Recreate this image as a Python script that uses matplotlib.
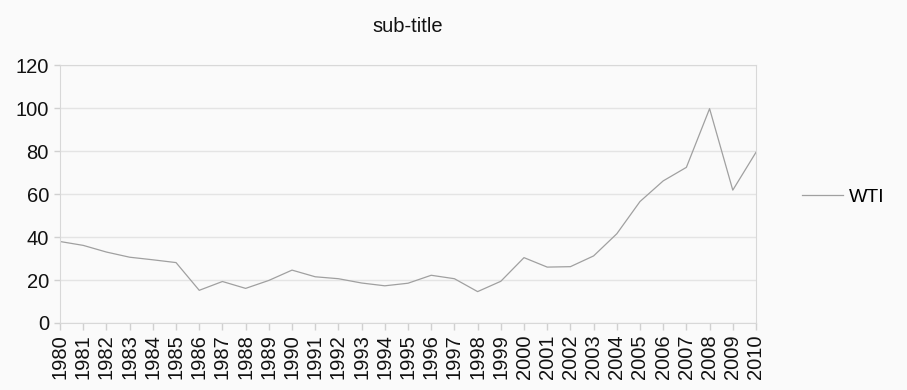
import matplotlib
matplotlib.use("Agg")
import matplotlib.pyplot as plt

# WTI crude oil, annual average price
years = list(range(1980, 2011))
wti = [37.9, 36.1, 33.0, 30.6, 29.4, 28.1, 15.2, 19.3, 16.1, 19.8,
       24.6, 21.5, 20.6, 18.6, 17.3, 18.5, 22.2, 20.6, 14.6, 19.4,
       30.4, 26.0, 26.2, 31.2, 41.5, 56.5, 66.1, 72.4, 99.7, 61.8,
       79.4]
yticks = [0, 20, 40, 60, 80, 100, 120]

plt.rcParams['font.family'] = ['Liberation Sans', 'DejaVu Sans']

fig = plt.figure(figsize=(9.07, 3.9), dpi=100, facecolor='#fafafa')
ax = fig.add_axes([0.0662, 0.1718, 0.7673, 0.6615])
ax.set_facecolor('#fafafa')

ax.plot(years, wti, color='#a0a0a0', linewidth=0.9, label='WTI')

ax.set_xlim(1980, 2010)
ax.set_ylim(0, 120)
ax.set_yticks(yticks)
ax.set_xticks(years)
ax.set_xticklabels([str(y) for y in years], rotation=90)
ax.grid(axis='y', color='#e4e4e4', linewidth=1)
ax.set_axisbelow(True)

for s in ax.spines.values():
    s.set_color('#d8d8d8')
ax.tick_params(axis='both', colors='#d0d0d0', labelcolor='#111111',
               labelsize=14.5, length=5, width=1, pad=3)
ax.tick_params(axis='y', length=4, pad=4)

ax.set_title('sub-title', fontsize=14.5, color='#111111', pad=24)

fig.legend(loc='center left', bbox_to_anchor=(0.884, 0.495), frameon=False,
           fontsize=14, handlelength=2.1, handletextpad=0.3,
           borderpad=0, borderaxespad=0)

fig.savefig('out.png', dpi=100, facecolor=fig.get_facecolor())
